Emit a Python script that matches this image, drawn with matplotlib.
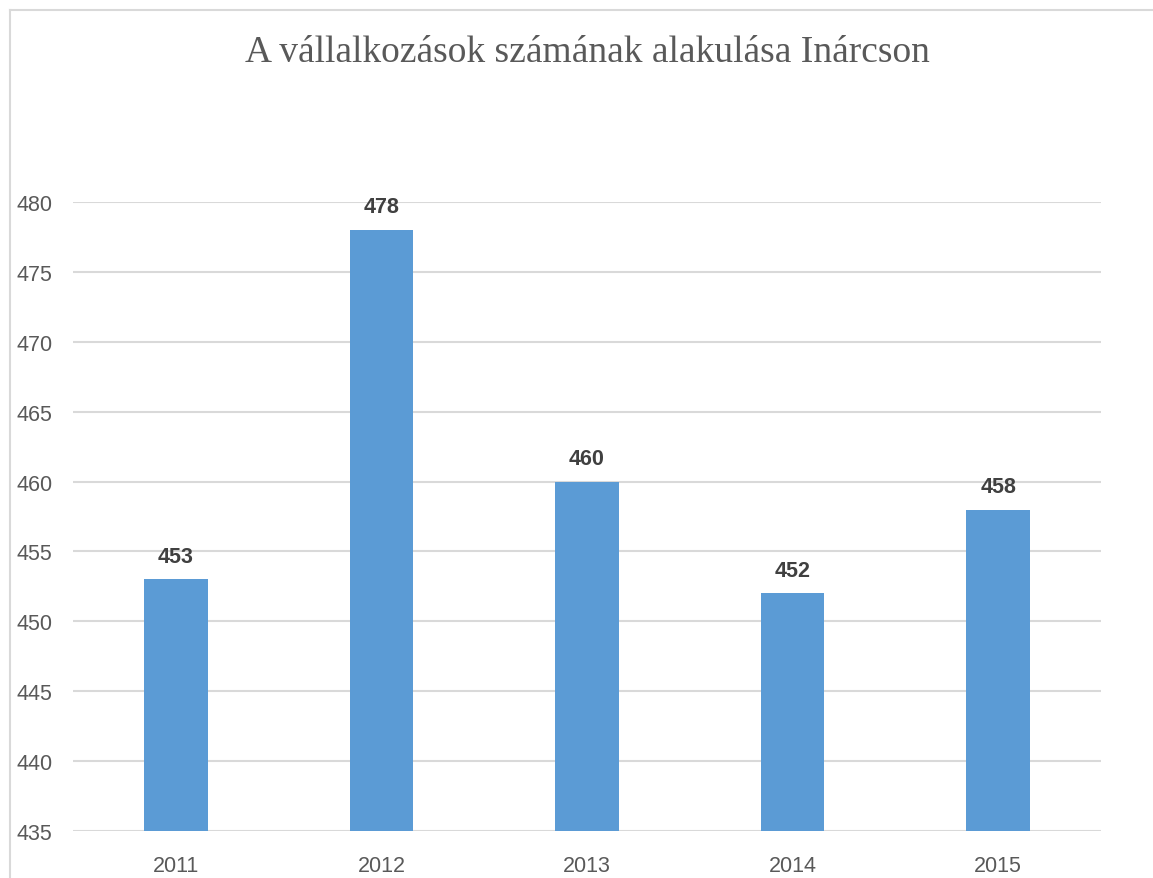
import matplotlib
matplotlib.use("Agg")
import matplotlib.pyplot as plt
from matplotlib.lines import Line2D

years = ["2011", "2012", "2013", "2014", "2015"]
values = [453, 478, 460, 452, 458]
yticks = [435, 440, 445, 450, 455, 460, 465, 470, 475, 480]

W, H = 1153, 879
fig = plt.figure(figsize=(W / 100, H / 100), dpi=100)
fig.patch.set_facecolor("white")

ax = fig.add_axes([73 / W, 1 - 832 / H, (1101 - 73) / W, (832 - 203) / H])
x = list(range(len(years)))
bars = ax.bar(x, values, width=0.31, color="#5B9BD5", zorder=3)
ax.set_xlim(-0.5, len(years) - 0.5)
ax.set_ylim(435, 480)
ax.set_yticks(yticks)
ax.set_xticks(x)
ax.set_xticklabels(years)
ax.grid(axis="y", color="#D9D9D9", linewidth=1.5, zorder=0)
for s in ax.spines.values():
    s.set_visible(False)
ax.tick_params(axis="both", length=0, labelsize=15.5, labelcolor="#595959")
ax.tick_params(axis="y", pad=15)
ax.tick_params(axis="x", pad=17)
for lab in ax.get_xticklabels() + ax.get_yticklabels():
    lab.set_family("Liberation Sans")

for xi, v in zip(x, values):
    ax.annotate(str(v), (xi, v), xytext=(0, 9), textcoords="offset points",
                ha="center", va="bottom", fontsize=15.5, fontweight="bold",
                color="#404040", family="Liberation Sans")

fig.text(587 / W, 1 - 53 / H, "A vállalkozások számának alakulása Inárcson",
         ha="center", va="center", fontsize=27, color="#595959",
         family="Liberation Serif")

fig.add_artist(Line2D([9.5 / W, 9.5 / W], [0, 1 - 10.5 / H], transform=fig.transFigure,
                      color="#D9D9D9", linewidth=1.5))
fig.add_artist(Line2D([9.5 / W, 1], [1 - 10.5 / H, 1 - 10.5 / H], transform=fig.transFigure,
                      color="#D9D9D9", linewidth=1.5))

fig.savefig("out.png", dpi=100, facecolor="white")
